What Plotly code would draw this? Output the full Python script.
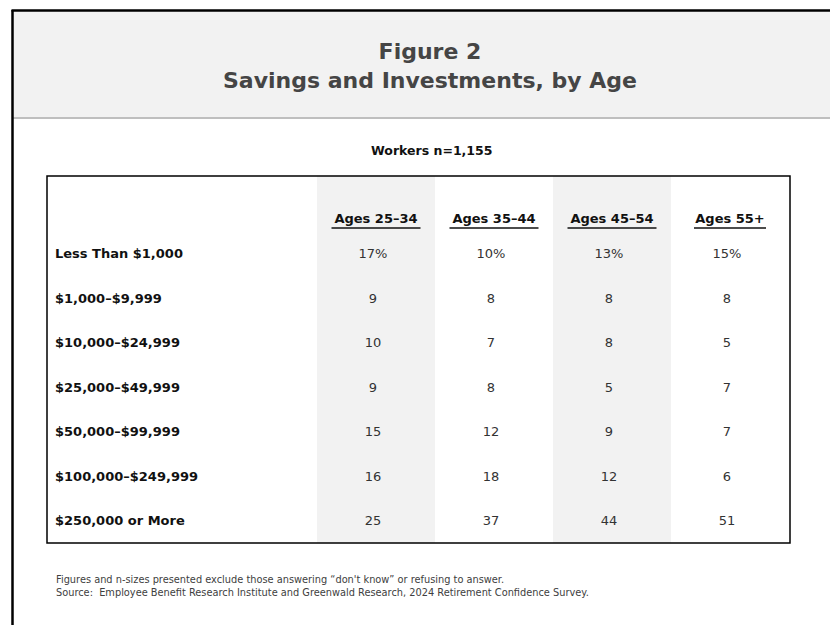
import plotly.graph_objects as go

# ---- data ----
categories = ["Less Than $1,000", "$1,000–$9,999", "$10,000–$24,999", "$25,000–$49,999",
              "$50,000–$99,999", "$100,000–$249,999", "$250,000 or More"]
age_groups = ["Ages 25–34", "Ages 35–44", "Ages 45–54", "Ages 55+"]
ages_25_34 = [17, 9, 10, 9, 15, 16, 25]
ages_35_44 = [10, 8, 7, 8, 12, 18, 37]
ages_45_54 = [13, 8, 8, 5, 9, 12, 44]
ages_55_plus = [15, 8, 5, 7, 7, 6, 51]
series = [ages_25_34, ages_35_44, ages_45_54, ages_55_plus]

title_1 = "Figure 2"
title_2 = "Savings and Investments, by Age"
subtitle = "Workers n=1,155"
footnotes = ["Figures and n-sizes presented exclude those answering “don't know” or refusing to answer.",
             "Source:  Employee Benefit Research Institute and Greenwald Research, 2024 Retirement Confidence Survey."]

# ---- layout geometry (screen pixel space; page body has an 8px margin) ----
W, H = 838, 625
OFF = 8
FONT = "DejaVu Sans"
tbl_left, tbl_right, tbl_top, tbl_bottom = 47, 790, 176, 543
col_left0, col_w = 317, 118
header_y = 220
row_y0, row_dy = 255, 44.5
label_x = 55

fig = go.Figure()

shapes = []
# header band
shapes.append(dict(type="rect", x0=12, x1=W + 20, y0=10, y1=118, fillcolor="#f2f2f2",
                   line=dict(width=0), layer="below"))
shapes.append(dict(type="line", x0=12, x1=W + 20, y0=118, y1=118, line=dict(color="#bfbfbf", width=2)))
shapes.append(dict(type="line", x0=11.5, x1=W + 20, y0=10.5, y1=10.5, line=dict(color="black", width=2.5)))
shapes.append(dict(type="line", x0=12.5, x1=12.5, y0=10, y1=H + 20, line=dict(color="black", width=2.5)))
# shaded columns
for j in range(len(age_groups)):
    if j % 2 == 0:
        shapes.append(dict(type="rect", x0=col_left0 + j * col_w, x1=col_left0 + (j + 1) * col_w,
                           y0=tbl_top, y1=tbl_bottom, fillcolor="#f2f2f2", line=dict(width=0),
                           layer="below"))
# table border
shapes.append(dict(type="rect", x0=tbl_left, x1=tbl_right, y0=tbl_top, y1=tbl_bottom,
                   line=dict(color="black", width=1.5), fillcolor="rgba(0,0,0,0)"))

col_centers = [col_left0 + (j + 0.5) * col_w for j in range(len(age_groups))]
row_ys = [row_y0 + i * row_dy for i in range(len(categories))]

# row labels
fig.add_trace(go.Scatter(
    x=[label_x] * len(categories), y=row_ys, mode="text",
    text=[f"<b>{c}</b>" for c in categories], textposition="middle right",
    textfont=dict(family=FONT, size=13, color="#111111"), hoverinfo="skip", showlegend=False))

# column headers
fig.add_trace(go.Scatter(
    x=col_centers, y=[header_y] * len(age_groups), mode="text",
    text=[f"<b>{a}</b>" for a in age_groups], textposition="middle center",
    textfont=dict(family=FONT, size=13, color="#111111"), hoverinfo="skip", showlegend=False))
for j, a in enumerate(age_groups):
    hw = 44.5 if j < 3 else 36
    shapes.append(dict(type="line", x0=col_centers[j] - hw, x1=col_centers[j] + hw,
                       y0=header_y + 8, y1=header_y + 8, line=dict(color="#111111", width=1.3)))

# values
for j, vals in enumerate(series):
    txt = [f"{v}%" if i == 0 else f"{v}" for i, v in enumerate(vals)]
    fig.add_trace(go.Scatter(
        x=[col_centers[j] - 3] * len(vals), y=row_ys, mode="text", text=txt,
        textposition="middle center", textfont=dict(family=FONT, size=13, color="#333333"),
        hoverinfo="skip", showlegend=False))

annotations = [
    dict(x=430, y=66, text=f"<b>{title_1}</b><br><b>{title_2}</b>", showarrow=False,
         font=dict(family=FONT, size=22, color="#454545"), xanchor="center", yanchor="middle",
         align="center"),
    dict(x=431, y=150, text=f"<b>{subtitle}</b>", showarrow=False,
         font=dict(family=FONT, size=12.5, color="#111111"), xanchor="center", yanchor="middle"),
    dict(x=54, y=586, text=footnotes[0] + "<br>" + footnotes[1], showarrow=False,
         font=dict(family=FONT, size=9.8, color="#404040"), xanchor="left", yanchor="middle",
         align="left"),
]

fig.update_layout(
    width=W, height=H, margin=dict(l=0, r=0, t=0, b=0),
    paper_bgcolor="white", plot_bgcolor="white",
    xaxis=dict(range=[OFF, W + OFF], visible=False, fixedrange=True),
    yaxis=dict(range=[H + OFF, OFF], visible=False, fixedrange=True),
    shapes=shapes, annotations=annotations, showlegend=False,
)

fig.write_html("out.html")
